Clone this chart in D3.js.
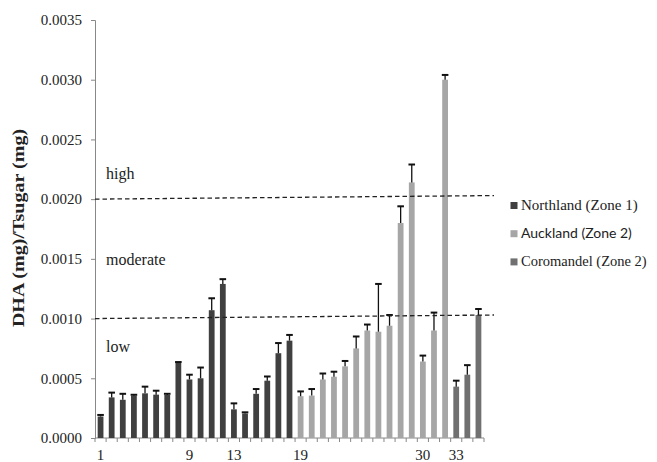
<!DOCTYPE html>
<html><head><meta charset="utf-8">
<script src="https://cdn.jsdelivr.net/npm/d3@7"></script>
<style>body{margin:0;background:#fff}svg{display:block}</style>
</head><body>
<svg id="c" width="657" height="462"></svg>
<script>
const samples = d3.range(1, 36);
const regions = ["Northland (Zone 1)", "Auckland (Zone 2)", "Coromandel (Zone 2)"];
const regionOf = samples.map(s => s <= 18 ? 0 : (s <= 32 ? 1 : 2));
const dha = [0.00018,0.00034,0.00032,0.000354,0.000374,0.000363,0.00036,0.00063,0.00049,0.0005,
  0.00107,0.00129,0.00024,0.000205,0.00037,0.00048,0.00071,0.000815,
  0.00035,0.000355,0.00049,0.000513,0.0006,0.00075,0.0009,0.00089,0.00094,0.0018,0.00214,0.00064,0.0009,0.0030,
  0.00043,0.00053,0.00103];
const err = [0.000013,0.00004,0.00005,0.000008,0.000056,0.000033,0.00001,0.000006,0.00004,0.00009,
  0.0001,0.00004,0.00005,0.00001,0.00004,0.000035,0.000085,0.000048,
  0.00004,0.000055,0.00005,0.000042,0.000045,0.0001,0.00005,0.0004,0.00009,0.00014,0.00015,0.00005,0.00015,0.00004,
  0.00005,0.00008,0.00005];
const xLabels = [1, 9, 13, 19, 30, 33];
const yTicks = [0,0.0005,0.001,0.0015,0.002,0.0025,0.003,0.0035];
const thresholds = [[0.0020, 0.00203], [0.0010, 0.00103]];
const zoneLabels = [["high", 0.00217], ["moderate", 0.00145], ["low", 0.000723]];
const colors = ["#404040", "#a6a6a6", "#707070"];

const svg = d3.select("#c");
const x = d3.scaleBand().domain(samples).range([95, 484]).paddingInner(0.48).paddingOuter(0.24);
const xb = d3.scaleBand().domain(samples).range([95, 484]);
const y = d3.scaleLinear().domain([0, 0.0035]).range([438, 20]);
const serif = "'Liberation Serif','Times New Roman',Times,serif";

// y axis
const ya = svg.append("g").attr("transform","translate(95,0)")
  .call(d3.axisLeft(y).tickValues(yTicks).tickFormat(d3.format(".4f")).tickSizeOuter(0).tickSize(4).tickPadding(9));
ya.select(".domain").attr("stroke","#888");
ya.selectAll(".tick line").attr("stroke","#888");
ya.selectAll("text").attr("font-family",serif).attr("font-size",15).attr("fill","#222");

// x axis
const xa = svg.append("g").attr("transform","translate(0,438)");
xa.append("line").attr("x1",95).attr("x2",484).attr("stroke","#888");
xa.selectAll("line.t").data(samples.concat([36])).join("line").attr("class","t")
  .attr("x1",d => d<=35 ? xb(d) : 484).attr("x2",d => d<=35 ? xb(d) : 484)
  .attr("y1",0).attr("y2",4).attr("stroke","#888");
xa.selectAll("text").data(xLabels).join("text")
  .attr("x", d => xb(d) + xb.bandwidth()/2).attr("y", 22)
  .attr("text-anchor","middle").attr("font-family",serif).attr("font-size",15).attr("fill","#222")
  .text(d => d);

// bars
svg.append("g").selectAll("rect").data(samples).join("rect")
  .attr("x", d => x(d)).attr("width", x.bandwidth())
  .attr("y", (d,i) => y(dha[i])).attr("height", (d,i) => 438 - y(dha[i]))
  .attr("fill", (d,i) => colors[regionOf[i]]);

// error bars
const eb = svg.append("g").attr("stroke","#111");
samples.forEach((s,i) => {
  const cx = x(s) + x.bandwidth()/2;
  eb.append("line").attr("x1",cx).attr("x2",cx).attr("y1",y(dha[i])).attr("y2",y(dha[i]+err[i])).attr("stroke-width",1.3);
  eb.append("line").attr("x1",cx-3.3).attr("x2",cx+3.3).attr("y1",y(dha[i]+err[i])).attr("y2",y(dha[i]+err[i])).attr("stroke-width",2);
});

// threshold lines
svg.append("g").selectAll("line").data(thresholds).join("line")
  .attr("x1",95).attr("x2",494)
  .attr("y1",d => y(d[0])).attr("y2",d => y(d[1]))
  .attr("stroke","#222").attr("stroke-width",1.3).attr("stroke-dasharray","4.5,3");

svg.append("g").selectAll("text").data(zoneLabels).join("text")
  .attr("x",106).attr("y",d => y(d[1]))
  .attr("font-family",serif).attr("font-size",16).attr("fill","#222").text(d => d[0]);

// y label
svg.append("text").attr("transform","translate(24,228) rotate(-90) scale(1.18,1)")
  .attr("text-anchor","middle").attr("font-family",serif).attr("font-weight","bold")
  .attr("font-size",17).attr("fill","#222").text("DHA (mg)/Tsugar (mg)");

// legend
const lg = svg.append("g").selectAll("g").data(regions).join("g")
  .attr("transform",(d,i) => `translate(510.5,${209.5 + i*28.2})`);
lg.append("rect").attr("x",0).attr("y",-7.5).attr("width",7).attr("height",7).attr("fill",(d,i)=>colors[i]);
lg.append("text").attr("x",10.5).attr("y",0)
  .attr("font-family",(d,i) => i===1 ? "Lato,'Liberation Sans',sans-serif" : serif)
  .attr("font-size",(d,i) => i===1 ? 14 : (i===2 ? 14.5 : 15)).attr("fill","#222").text(d => d);
</script>
</body></html>
